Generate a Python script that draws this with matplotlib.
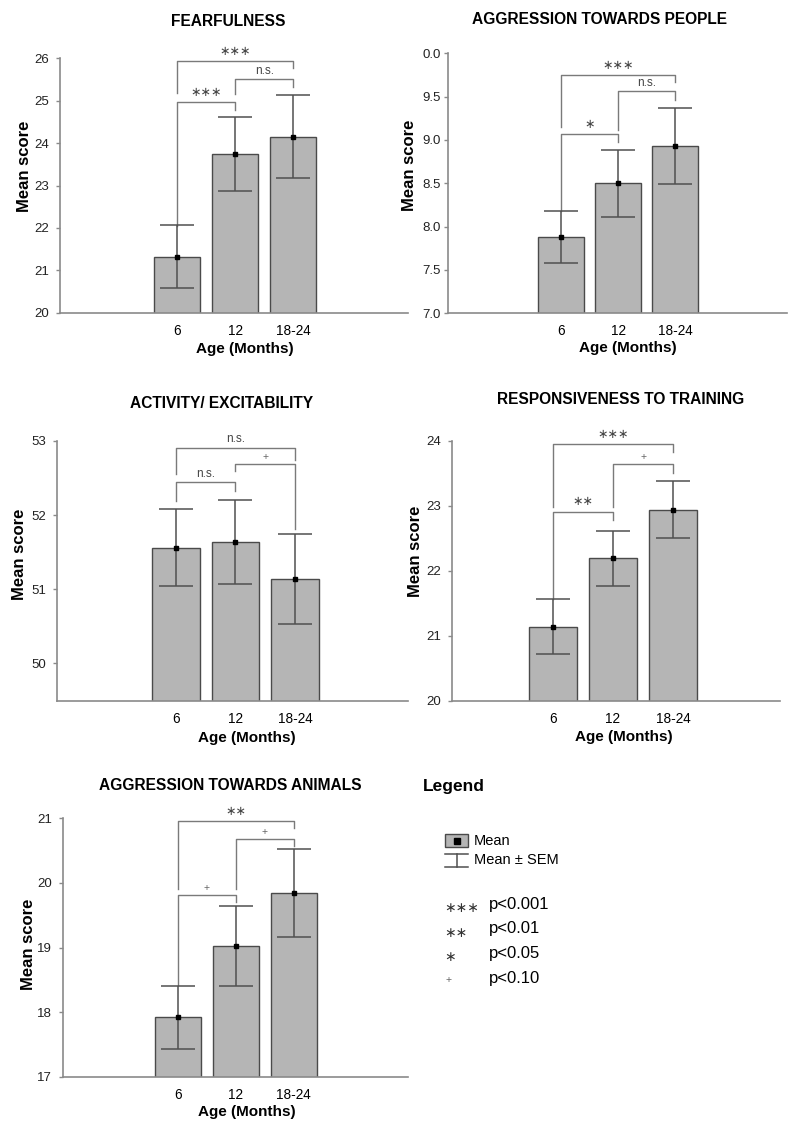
import matplotlib
matplotlib.use("Agg")
import matplotlib.pyplot as plt
from matplotlib.patches import Rectangle

plt.rcParams["font.family"] = ["Liberation Sans", "DejaVu Sans"]

# data
ages = ["6", "12", "18-24"]

fear_mean = [21.32, 23.75, 24.15]
fear_sem = [0.74, 0.87, 0.98]

aggr_people_mean = [7.88, 8.50, 8.93]
aggr_people_sem = [0.30, 0.39, 0.44]

activity_mean = [51.56, 51.64, 51.14]
activity_sem = [0.52, 0.57, 0.61]

training_mean = [21.14, 22.19, 22.94]
training_sem = [0.42, 0.42, 0.44]

aggr_animals_mean = [17.92, 19.03, 19.85]
aggr_animals_sem = [0.49, 0.62, 0.68]

# significance brackets: (from, to, level, left leg end, right leg end, label)
fear_brackets = [(0, 2, 25.94, 25.19, 25.76, "***"),
                 (1, 2, 25.51, 25.15, 25.32, "n.s."),
                 (0, 1, 24.96, 22.05, 24.78, "***")]
aggr_people_brackets = [(0, 2, 9.75, 9.15, 9.67, "***"),
                        (1, 2, 9.56, 9.12, 9.46, "n.s."),
                        (0, 1, 9.07, 8.18, 8.98, "*")]
activity_brackets = [(0, 2, 52.91, 52.55, 52.75, "n.s."),
                     (1, 2, 52.69, 52.59, 51.81, "+"),
                     (0, 1, 52.44, 52.19, 52.33, "n.s.")]
training_brackets = [(0, 2, 23.95, 22.98, 23.83, "***"),
                     (1, 2, 23.64, 22.98, 23.51, "+"),
                     (0, 1, 22.91, 21.56, 22.78, "**")]
aggr_animals_brackets = [(0, 2, 20.96, 19.90, 20.85, "**"),
                         (1, 2, 20.68, 19.91, 20.57, "+"),
                         (0, 1, 19.81, 18.42, 19.70, "+")]

W, H = 800, 1131
fig = plt.figure(figsize=(8, 11.31), dpi=100)

BAR = "#b5b5b5"
EDGE = "#4a4a4a"
SPINE = "#8a8a8a"
BRK = "#7a7a7a"


def ftext(x, y, s, **kw):
    fig.text(x / W, 1 - y / H, s, **kw)


def star_label(ax, x, y, label):
    if label.startswith("*"):
        ax.annotate(label.replace("*", "\u2217"), (x, y), xytext=(0, 7),
                    textcoords="offset points", ha="center", va="center",
                    fontsize=9, color="#444444", family="DejaVu Sans",
                    annotation_clip=False)
    elif label == "+":
        ax.annotate("+", (x, y), xytext=(0, 5), textcoords="offset points",
                    ha="center", va="center", fontsize=7.5, color="#666666",
                    annotation_clip=False)
    else:
        ax.annotate(label, (x, y), xytext=(0, 6), textcoords="offset points",
                    ha="center", va="center", fontsize=8.5, color="#444444",
                    annotation_clip=False)


def panel(box, xlim, ylim, yticks, ylabels, means, sems, brackets, pad):
    l, t, r, b = box
    ax = fig.add_axes([l / W, 1 - b / H, (r - l) / W, (b - t) / H])
    x = list(range(len(ages)))
    ax.bar(x, means, width=0.8, color=BAR, edgecolor=EDGE, linewidth=1, zorder=2)
    ax.errorbar(x, means, yerr=sems, fmt="none", ecolor="#505050",
                elinewidth=1.1, capsize=12, capthick=1.1, zorder=3)
    ax.plot(x, means, "s", color="black", ms=3.5, zorder=4)
    for i, j, lev, le, re, lab in brackets:
        ax.plot([i, i, j, j], [le, lev, lev, re], color=BRK, lw=1,
                clip_on=False, zorder=1)
        star_label(ax, (i + j) / 2, lev, lab)
    ax.set_xlim(*xlim)
    ax.set_ylim(*ylim)
    ax.set_yticks(yticks)
    ax.set_yticklabels(ylabels)
    ax.set_xticks(x)
    ax.set_xticklabels(ages, fontsize=9.8)
    ax.tick_params(axis="x", length=0, pad=8)
    ax.tick_params(axis="y", length=3, width=1, color=SPINE, labelsize=9.5,
                   pad=pad, labelcolor="#222222")
    for s in ["top", "right"]:
        ax.spines[s].set_visible(False)
    for s in ["left", "bottom"]:
        ax.spines[s].set_color(SPINE)
        ax.spines[s].set_linewidth(1.2)
    ax.set_facecolor("none")
    return ax


panel((60, 58.3, 408, 312.7), (-2.02, 3.98), (20, 26), range(20, 27),
      [str(v) for v in range(20, 27)], fear_mean, fear_sem, fear_brackets, 5)
panel((448, 53.3, 787, 313.3), (-1.98, 3.96), (7, 10),
      [7.0, 7.5, 8.0, 8.5, 9.0, 9.5, 10.0],
      ["7.0", "7.5", "8.0", "8.5", "9.0", "9.5", "0.0"],
      aggr_people_mean, aggr_people_sem, aggr_people_brackets, 2)
panel((57, 441, 408, 701), (-2.0, 3.9), (49.49, 53), [50, 51, 52, 53],
      ["50", "51", "52", "53"], activity_mean, activity_sem, activity_brackets, 5)
panel((452, 440.7, 780, 700.7), (-1.68, 3.78), (20, 24), range(20, 25),
      [str(v) for v in range(20, 25)], training_mean, training_sem,
      training_brackets, 5)
panel((63, 818.3, 408, 1076.7), (-1.98, 3.97), (17, 21), range(17, 22),
      [str(v) for v in range(17, 22)], aggr_animals_mean, aggr_animals_sem,
      aggr_animals_brackets, 5)

# titles and axis labels
bold = dict(fontweight="bold", ha="center", va="center", fontsize=11.2)
ftext(228, 21, "FEARFULNESS", **bold)
ftext(599, 20, "AGGRESSION TOWARDS PEOPLE", **bold)
ftext(222, 403, "ACTIVITY/ EXCITABILITY", **bold)
ftext(621, 399, "RESPONSIVENESS TO TRAINING", **bold)
ftext(230, 786, "AGGRESSION TOWARDS ANIMALS", **bold)

lab = dict(fontweight="bold", ha="center", va="center")
for x, y in [(245, 349), (628, 348), (247, 738), (624, 737), (247, 1112)]:
    ftext(x, y, "Age (Months)", fontsize=11, **lab)
for x, y in [(25, 166), (409, 165), (20, 554), (415, 551), (29, 944)]:
    ftext(x, y, "Mean score", rotation=90, fontsize=12, **lab)

# legend panel
ftext(423, 786, "Legend", fontweight="bold", fontsize=12.5, ha="left", va="center")
lg = fig.add_axes([0, 0, 1, 1])
lg.set_xlim(0, W)
lg.set_ylim(H, 0)
lg.axis("off")
lg.add_patch(Rectangle((445, 834), 23, 13, facecolor=BAR, edgecolor=EDGE, lw=1))
lg.plot([456.5], [840.5], "s", color="black", ms=5)
lg.plot([445, 468], [854.3, 854.3], color="#505050", lw=1.1)
lg.plot([456.5, 456.5], [854.3, 867.3], color="#505050", lw=1.1)
lg.plot([445, 468], [867.3, 867.3], color="#505050", lw=1.1)
ftext(474, 841, "Mean", fontsize=10.5, ha="left", va="center")
ftext(474, 860, "Mean \u00b1 SEM", fontsize=10.5, ha="left", va="center")

sig_marks = ["\u2217\u2217\u2217", "\u2217\u2217", "\u2217", "+"]
sig_text = ["p<0.001", "p<0.01", "p<0.05", "p<0.10"]
for k, (m, t) in enumerate(zip(sig_marks, sig_text)):
    y = 906 + k * 24.7
    if m == "+":
        ftext(449, y, m, fontsize=7.5, color="#666666", ha="center", va="center")
    else:
        ftext(444, y + 2, m, fontsize=10, color="#333333", ha="left",
              va="center", family="DejaVu Sans")
    ftext(489, y - 2, t, fontsize=12, ha="left", va="center")

fig.savefig("out.png", dpi=100)
